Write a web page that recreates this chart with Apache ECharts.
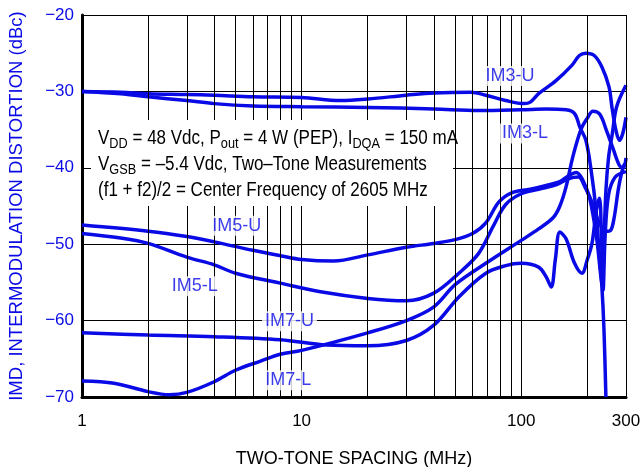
<!DOCTYPE html>
<html>
<head>
<meta charset="utf-8">
<script src="https://cdn.jsdelivr.net/npm/echarts@6/dist/echarts.min.js"></script>
<style>
  html, body { margin: 0; padding: 0; background: #fff; }
  #chart { width: 641px; height: 467px; }
</style>
</head>
<body>
<div id="chart"></div>
<script>
// curves: [tone spacing MHz, IMD dBc]
const im3U = [[1,-30],[1.5,-30.1],[2,-30.3],[3,-30.4],[4,-30.5],[6,-30.7],[10,-30.8],[15,-31.2],[20,-31.0],[30,-30.5],[40,-30.2],[59,-30.1],[69,-30.5],[85,-31.2],[103,-31.6],[110,-31.4],[120,-30.3],[144,-28.6],[170,-26.6],[184,-25.3],[197,-25],[215,-25.3],[233,-26.8],[251,-29.4],[259,-32.1],[270,-35.1],[280,-36.4],[290,-35.5],[300,-33.4]]
const im3L = [[1,-30],[1.5,-30.3],[2,-30.7],[3,-31.2],[4,-31.6],[6,-31.9],[10,-32.0],[20,-32.1],[40,-32.3],[64,-32.5],[100,-32.4],[130,-32.3],[160,-32.4],[175,-32.9],[185,-34.7],[197,-36.4],[208,-40.3],[219,-45.5],[226,-50.8],[233,-55.6],[238,-61],[243,-70]]
const im5U = [[1,-47.5],[2,-48.3],[3,-49],[4,-49.7],[6,-50.8],[8,-51.5],[10,-52],[14,-52.2],[20,-51.4],[30,-50.4],[40,-49.9],[50,-49.4],[60,-48.6],[69,-47.2],[79,-44.5],[90,-43.3],[110,-42.8],[130,-42.3],[150,-41.8],[165,-41],[178,-40.6],[190,-41.5],[205,-44],[220,-49],[230,-54],[234,-55.5],[238,-50],[243,-43],[250,-38.6],[260,-35.5],[272,-32],[300,-29.2]]
const im5L = [[1,-48.6],[1.5,-49.2],[2,-49.9],[3,-51.7],[4,-52.7],[5,-53.8],[8,-55.1],[12,-56.2],[20,-57.1],[30,-57.4],[40,-56.4],[52,-53.8],[64,-51.2],[75,-47.5],[85,-44.8],[100,-43.4],[120,-42.8],[145,-42.2],[165,-41.4],[182,-41.2],[195,-42.5],[210,-44.5],[225,-47],[243,-48.3],[255,-48.2],[265,-46.5],[278,-42.5],[292,-39.8],[300,-39.4]]
const im7U = [[1,-61.6],[2,-61.9],[4,-62.1],[8,-62.5],[13,-63.2],[20,-63.3],[30,-62.6],[40,-60.6],[52,-56.9],[69,-53.8],[85,-52.8],[100,-52.5],[120,-53],[130,-54.3],[137,-55.6],[143,-52],[150,-48.4],[160,-49.3],[175,-52.5],[189,-53.8],[200,-52],[210,-49.9],[220,-45.5],[227,-44],[232,-49],[236,-56],[241,-49],[250,-43.5],[268,-41.2],[300,-40.5]]
const im7L = [[1,-67.9],[1.4,-68.2],[2,-69.3],[2.5,-69.7],[3,-69.4],[4,-68],[5,-66.5],[6.5,-65.3],[8,-64.4],[10,-63.9],[20,-61.6],[30,-60],[40,-58.2],[50,-55.3],[69,-52.5],[100,-49.5],[120,-48],[140,-46.5],[150,-45],[160,-42.5],[172,-38.5],[187,-35],[200,-33.5],[212,-32.6],[228,-33],[245,-35.2],[262,-37.5],[280,-39.7],[292,-40],[300,-38.7]]

// curve labels [x, y, text]
const curveLabels = [[89,-28,'IM3-U'],[104,-35.5,'IM3-L'],[5.06,-47.6,'IM5-U'],[3.26,-55.5,'IM5-L'],[8.8,-60.1,'IM7-U'],[8.7,-67.8,'IM7-L']]

// vertical grid lines between decades
const minorX = [2,3,4,5,6,7,8,9,20,30,40,50,60,70,80,90,200,300]

const BLUE = '#0a0ae6'
const F = '"Liberation Sans", Arial, sans-serif'

const chart = echarts.init(document.getElementById('chart'))

function curve(name, data) {
    return {
        name: name,
        type: 'line',
        data: data,
        showSymbol: false,
        smooth: 0.35,
        z: 3,
        lineStyle: { color: BLUE, width: 3.5 },
        silent: true
    }
}

const option = {
    animation: false,
    grid: { left: 82, right: 15, top: 15, bottom: 70, containLabel: false, outerBoundsMode: 'none' },
    xAxis: {
        type: 'log',
        logBase: 10,
        min: 1,
        max: 300,
        axisLine: { show: true, lineStyle: { color: '#000', width: 3 } },
        axisTick: { show: false },
        splitLine: { show: true, lineStyle: { color: '#000', width: 1 } },
        axisLabel: { color: '#000', fontSize: 17, margin: 16, fontFamily: F },
        name: 'TWO-TONE SPACING (MHz)',
        nameLocation: 'middle',
        nameGap: 53,
        nameTextStyle: { color: '#000', fontSize: 18, fontFamily: F }
    },
    yAxis: {
        type: 'value',
        min: -70,
        max: -20,
        interval: 10,
        axisLine: { show: true, lineStyle: { color: '#000', width: 3 } },
        axisTick: { show: false },
        splitLine: { show: true, lineStyle: { color: '#000', width: 1 } },
        axisLabel: {
            color: BLUE, fontSize: 17, margin: 8, fontFamily: F,
            formatter: v => '\u2212' + Math.abs(v)
        },
        name: 'IMD, INTERMODULATION DISTORTION (dBc)',
        nameLocation: 'middle',
        nameGap: 56,
        nameTextStyle: { color: BLUE, fontSize: 18.5, fontFamily: F }
    },
    series: [
        {
            type: 'line',
            data: [[1, -70]],
            showSymbol: false,
            lineStyle: { opacity: 0 },
            z: 1,
            silent: true,
            markLine: {
                silent: true,
                symbol: 'none',
                label: { show: false },
                lineStyle: { color: '#000', width: 1, type: 'solid' },
                data: minorX.map(v => ({ xAxis: v }))
            }
        },
        curve('IM3-U', im3U),
        curve('IM3-L', im3L),
        curve('IM5-U', im5U),
        curve('IM5-L', im5L),
        curve('IM7-U', im7U),
        curve('IM7-L', im7L),
        {
            type: 'scatter',
            data: curveLabels,
            symbolSize: 0,
            z: 5,
            silent: true,
            label: {
                show: true,
                position: 'inside',
                formatter: p => p.value[2],
                color: BLUE,
                fontSize: 18,
                fontFamily: F,
                backgroundColor: '#fff',
                padding: [1, 3]
            }
        }
    ],
    graphic: [
        {
            type: 'rect',
            left: 91, top: 120, z: 10,
            shape: { width: 362, height: 86 },
            style: { fill: '#fff' }
        },
        {
            type: 'text',
            x: 98, y: 125, z: 11,
            scaleX: 0.85,
            style: {
                text: '{a|V}{s|DD}{a| = 48 Vdc, P}{s|out}{a| = 4 W (PEP), I}{s|DQA}{a| = 150 mA}\n' +
                      '{a|V}{s|GSB}{a| = \u20135.4 Vdc, Two\u2013Tone Measurements}\n' +
                      '{a|(f1 + f2)/2 = Center Frequency of 2605 MHz}',
                rich: {
                    a: { fontSize: 20, fontFamily: F, fill: '#000', lineHeight: 26 },
                    s: { fontSize: 15, fontFamily: F, fill: '#000', lineHeight: 15, verticalAlign: 'bottom' }
                }
            }
        }
    ]
}
chart.setOption(option)
</script>
</body>
</html>
